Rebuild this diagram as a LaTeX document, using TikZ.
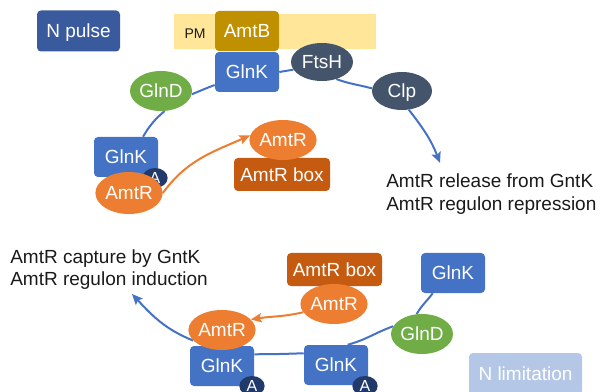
\documentclass[tikz,border=0pt]{standalone}
\usepackage{fontspec}
\setmainfont{Liberation Sans}
\usetikzlibrary{arrows.meta,shapes.geometric,backgrounds}
\definecolor{cGlnK}{HTML}{4472C4}
\definecolor{cNpulse}{HTML}{3A5A9E}
\definecolor{cPM}{HTML}{FFE699}
\definecolor{cAmtB}{HTML}{BF9000}
\definecolor{cGlnD}{HTML}{70AD47}
\definecolor{cDark}{HTML}{44546A}
\definecolor{cAmtR}{HTML}{ED7D31}
\definecolor{cBox}{HTML}{C55A11}
\definecolor{cA}{HTML}{223A6A}
\definecolor{cNlim}{HTML}{B4C7E7}
\definecolor{cText}{HTML}{1A1A1A}
\begin{document}
\begin{tikzpicture}[x=0.75pt,y=0.75pt,
  txt/.style={font=\fontsize{14.25pt}{17pt}\selectfont},
  label/.style={txt, text=cText, anchor=base west, inner sep=0pt},
  box/.style={txt, text=white, rounded corners=3pt, inner sep=0pt,
    minimum width=48pt, minimum height=30pt, text height=10.3pt, text depth=0pt},
  glnk/.style={box, fill=cGlnK},
  oval/.style={txt, text=white, ellipse, inner sep=0pt,
    minimum width=46.5pt, minimum height=30pt, text height=10.3pt, text depth=0pt},
  aoval/.style={ellipse, fill=cA, text=white, inner sep=0pt,
    minimum width=19pt, minimum height=15pt,
    font=\fontsize{12pt}{14pt}\selectfont, text height=8.6pt, text depth=0pt},
  bline/.style={draw=cGlnK, line width=1.5pt},
  oline/.style={draw=cAmtR, line width=1.5pt},
  tip/.style={-{Stealth[length=8pt,width=7pt,inset=1.5pt]}}
]
\useasboundingbox (0,0) rectangle (600,-392);

% ---- top (N pulse) ----
\node[fill=cPM, inner sep=0pt, minimum width=151.5pt, minimum height=26.25pt] (pm) at (275,-31.5) {};
\node[font=\fontsize{10.5pt}{12pt}\selectfont, text=cText, inner sep=0pt] (pmlabel) at (195,-33.5) {PM};
\node[box, fill=cAmtB] (amtB) at (247,-31) {AmtB};
\node[glnk] (glnkT) at (247,-72) {GlnK};
\node[box, fill=cNpulse, minimum width=62.25pt, minimum height=30.75pt] (npulse) at (78.5,-31) {N pulse};
\node[oval, fill=cGlnD] (glndT) at (161,-91) {GlnD};
\node[oval, fill=cDark, minimum height=28.5pt] (ftsH) at (322,-62) {FtsH};
\node[oval, fill=cDark, minimum width=45pt, minimum height=28.5pt] (clp) at (402,-91) {Clp};
\node[glnk] (glnkL) at (126,-157) {GlnK};
\node[aoval] (aL) at (155,-178) {A};
\node[oval, fill=cAmtR, minimum width=48pt, minimum height=31.5pt] (amtRll) at (129,-193) {AmtR};
\node[box, fill=cBox, minimum width=72pt, minimum height=24.75pt] (boxM) at (282,-174.5) {AmtR box};
\node[oval, fill=cAmtR] (amtRm) at (283,-140) {AmtR};
\coordinate (endTop) at (440,-163);

\node[label] (relA) at (386,-188) {AmtR release from GntK};
\node[label] (relB) at (386,-211) {AmtR regulon repression};

% ---- bottom (N limitation) ----
\node[label] (capA) at (10,-263) {AmtR capture by GntK};
\node[label] (capB) at (10,-286) {AmtR regulon induction};

\node[box, fill=cBox, minimum width=71.25pt, minimum height=24.75pt] (boxB) at (334.5,-269.5) {AmtR box};
\node[oval, fill=cAmtR] (amtRbr) at (334,-304) {AmtR};
\node[glnk] (glnkR) at (453,-273) {GlnK};
\node[oval, fill=cGlnD] (glndB) at (422,-334) {GlnD};
\node[glnk] (glnkM) at (336,-365) {GlnK};
\node[glnk] (glnkBL) at (222,-366) {GlnK};
\node[aoval] (aM) at (365,-386) {A};
\node[aoval] (aBL) at (252,-386) {A};
\node[oval, fill=cAmtR] (amtRbl) at (222,-330) {AmtR};
\node[box, fill=cNlim, minimum width=84.75pt, minimum height=31.5pt] (nlim) at (525.5,-374) {N limitation};
\coordinate (endBot) at (132,-294);

\begin{pgfonlayer}{background}
  % top arc
  \draw[bline] (glnkL.50) to[out=59,in=220] (glndT.280);
  \draw[bline] (glndT.-6) to[out=22,in=200] (glnkT.202);
  \draw[bline] (glnkT.east) -- (ftsH.195);
  \draw[bline] (ftsH.-50) to[out=-20,in=165] (clp.175);
  \draw[bline, tip] (clp.-70) to[out=-52,in=111] (endTop);
  \draw[oline, tip] (amtRll.east) to[out=54,in=204] (amtRm.172);
  % bottom arc
  \draw[bline] (glnkR.225) to[out=233,in=60] (glndB.105);
  \draw[bline] (glndB.165) to[out=200,in=15] (glnkM.60);
  \draw[bline] (glnkM.160) to[out=182,in=0] (glnkBL.20);
  \draw[bline, tip] (amtRbl.200) to[out=158,in=-47] (endBot);
  \draw[oline, tip] (amtRbr.195) to[out=193,in=9] (amtRbl.20);
\end{pgfonlayer}
\end{tikzpicture}
\end{document}
